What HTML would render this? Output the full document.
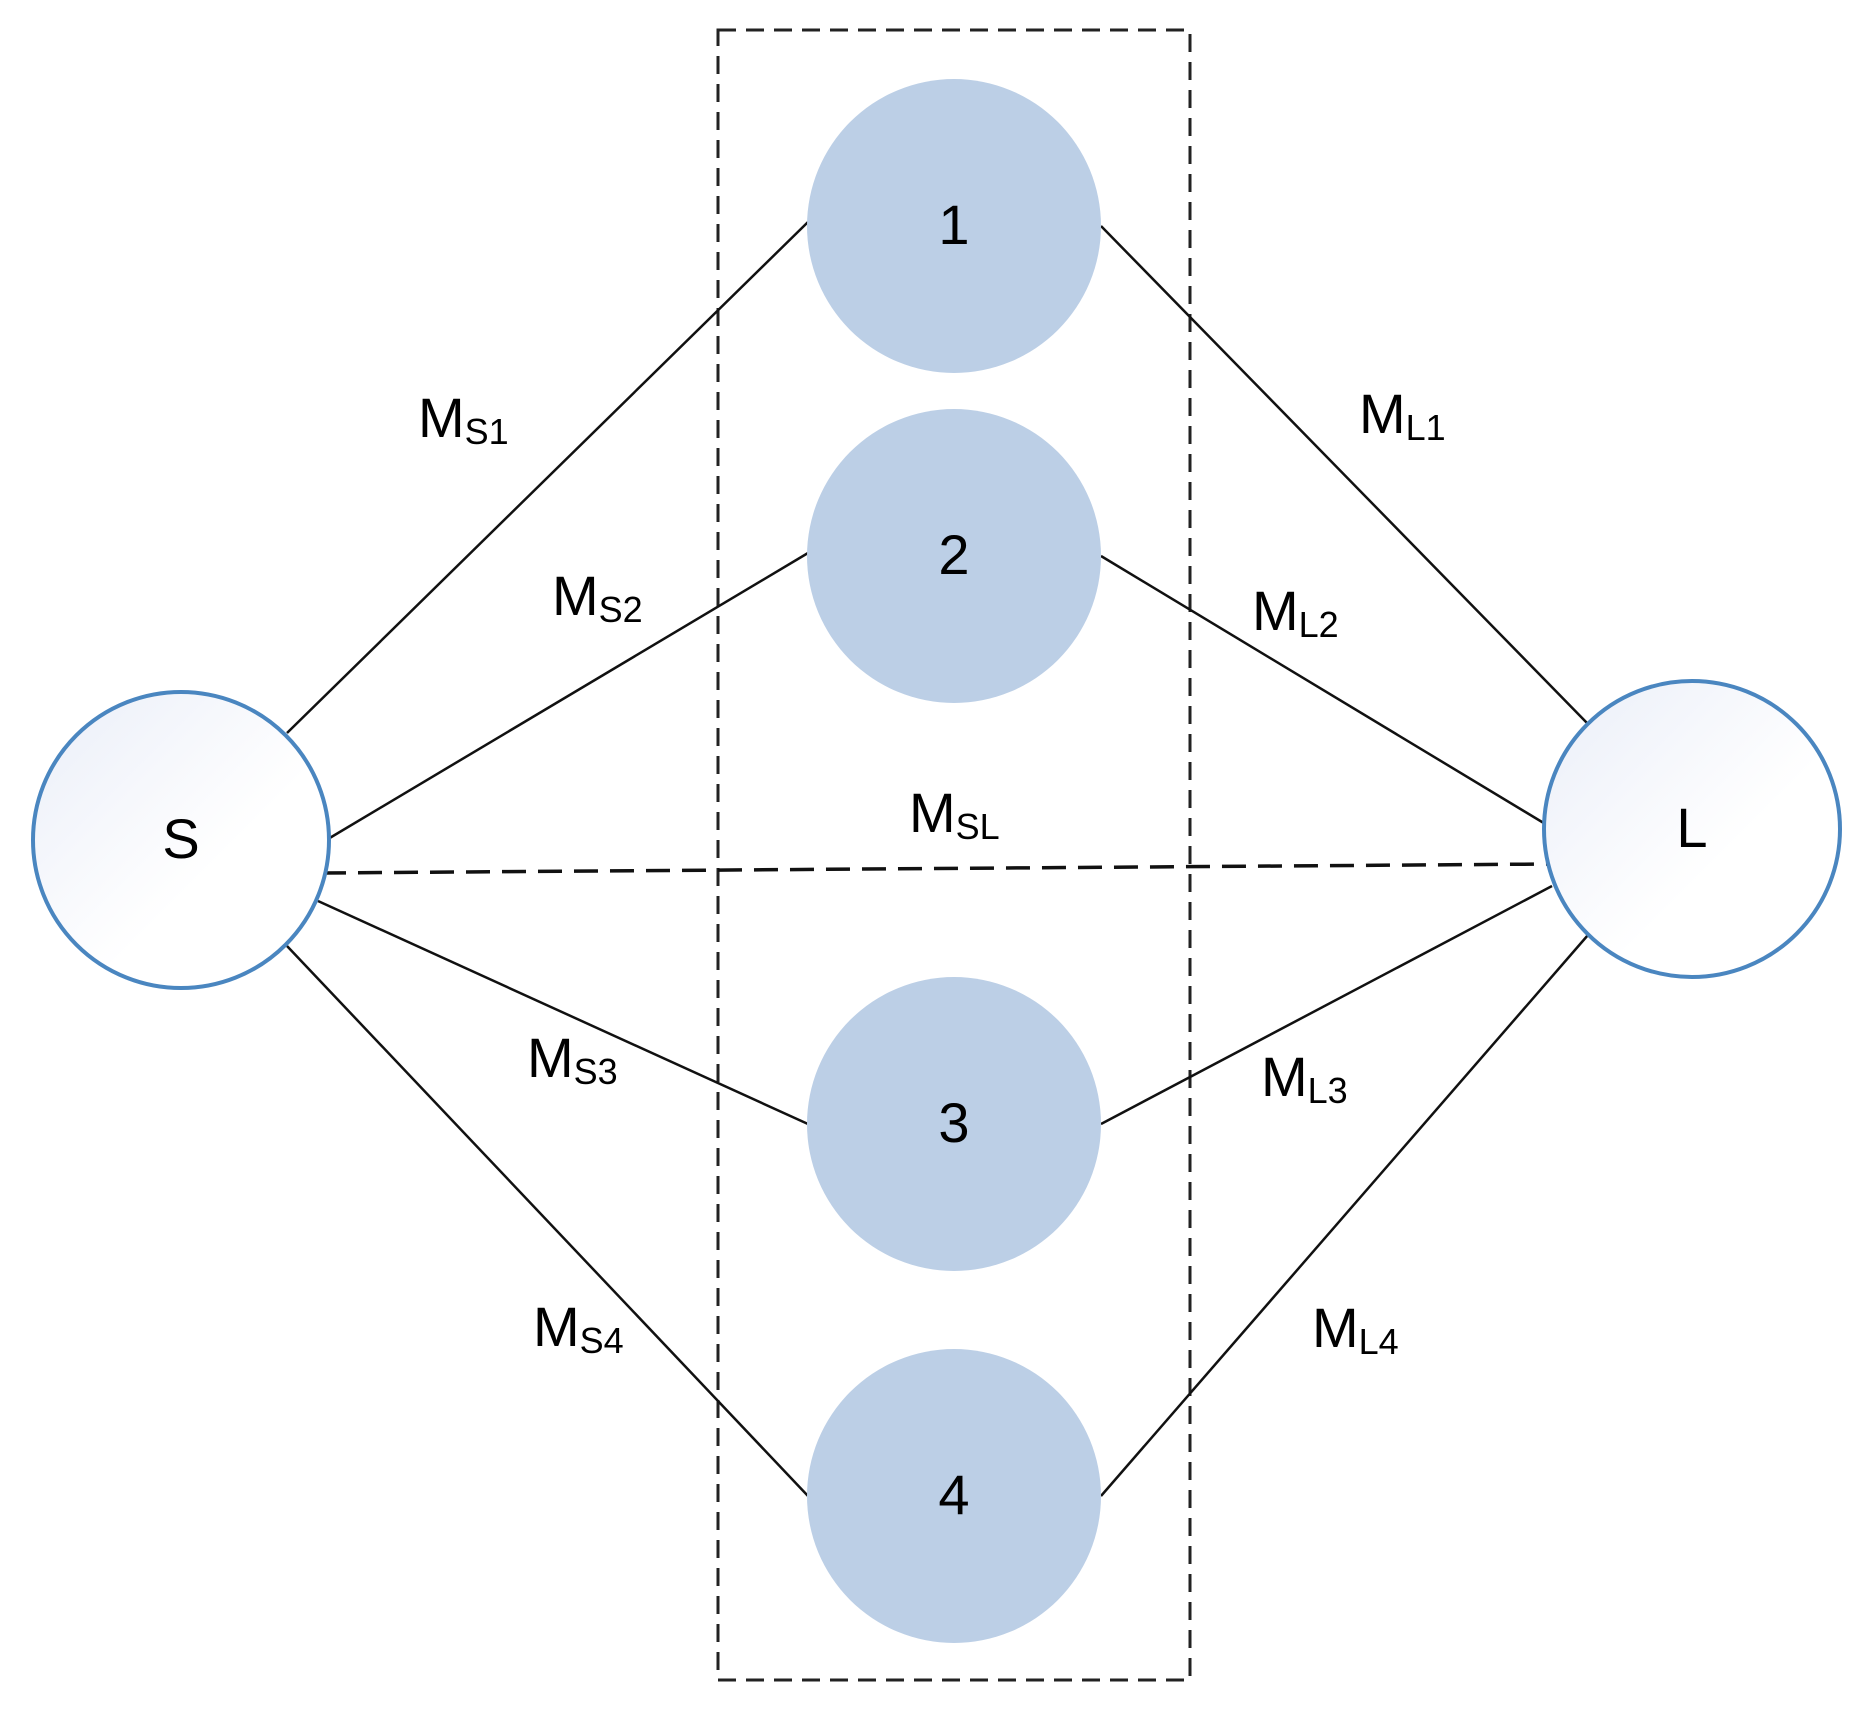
<!DOCTYPE html>
<html><head><meta charset="utf-8"><style>html,body{margin:0;padding:0;background:#fff}svg{display:block}</style></head>
<body>
<svg width="1872" height="1711" viewBox="0 0 1872 1711" xmlns="http://www.w3.org/2000/svg" font-family="Liberation Sans, Arial, sans-serif">
<defs>
<linearGradient id="g" x1="0" y1="0" x2="1" y2="1"><stop offset="0" stop-color="#eaeef8"/><stop offset="0.6" stop-color="#ffffff"/></linearGradient>
</defs>
<rect x="718" y="30" width="472" height="1650" fill="none" stroke="#222" stroke-width="3" stroke-dasharray="18,10"/>
<g stroke="#111" stroke-width="2.5">
<line x1="287" y1="733" x2="808" y2="222"/>
<line x1="328" y1="839" x2="808" y2="553"/>
<line x1="318" y1="901" x2="808" y2="1124"/>
<line x1="287" y1="946" x2="808" y2="1496"/>
<line x1="1101" y1="226" x2="1588" y2="724"/>
<line x1="1101" y1="556" x2="1547" y2="825"/>
<line x1="1101" y1="1124" x2="1552" y2="886"/>
<line x1="1101" y1="1496" x2="1588" y2="935"/>
<line x1="322" y1="873" x2="1552" y2="864" stroke-width="3.5" stroke-dasharray="24,12"/>
</g>
<g fill="#bccfe6">
<circle cx="954" cy="226" r="147"/>
<circle cx="954" cy="556" r="147"/>
<circle cx="954" cy="1124" r="147"/>
<circle cx="954" cy="1496" r="147"/>
</g>
<circle cx="181" cy="840" r="148" fill="url(#g)" stroke="#4a86c0" stroke-width="4"/>
<circle cx="1692" cy="829" r="148" fill="url(#g)" stroke="#4a86c0" stroke-width="4"/>
<g font-size="56" text-anchor="middle" fill="#000">
<text x="954" y="244">1</text>
<text x="954" y="574">2</text>
<text x="954" y="1142">3</text>
<text x="954" y="1514">4</text>
<text x="181" y="858">S</text>
<text x="1692" y="847">L</text>
</g>
<g font-size="56" fill="#000">
<text x="418" y="437">M<tspan font-size="36" dy="7">S1</tspan></text>
<text x="552" y="615">M<tspan font-size="36" dy="7">S2</tspan></text>
<text x="527" y="1077">M<tspan font-size="36" dy="7">S3</tspan></text>
<text x="533" y="1346">M<tspan font-size="36" dy="7">S4</tspan></text>
<text x="909" y="832">M<tspan font-size="36" dy="7">SL</tspan></text>
<text x="1359" y="433">M<tspan font-size="36" dy="7">L1</tspan></text>
<text x="1252" y="630">M<tspan font-size="36" dy="7">L2</tspan></text>
<text x="1261" y="1096">M<tspan font-size="36" dy="7">L3</tspan></text>
<text x="1312" y="1347">M<tspan font-size="36" dy="7">L4</tspan></text>
</g>
</svg>
</body></html>
